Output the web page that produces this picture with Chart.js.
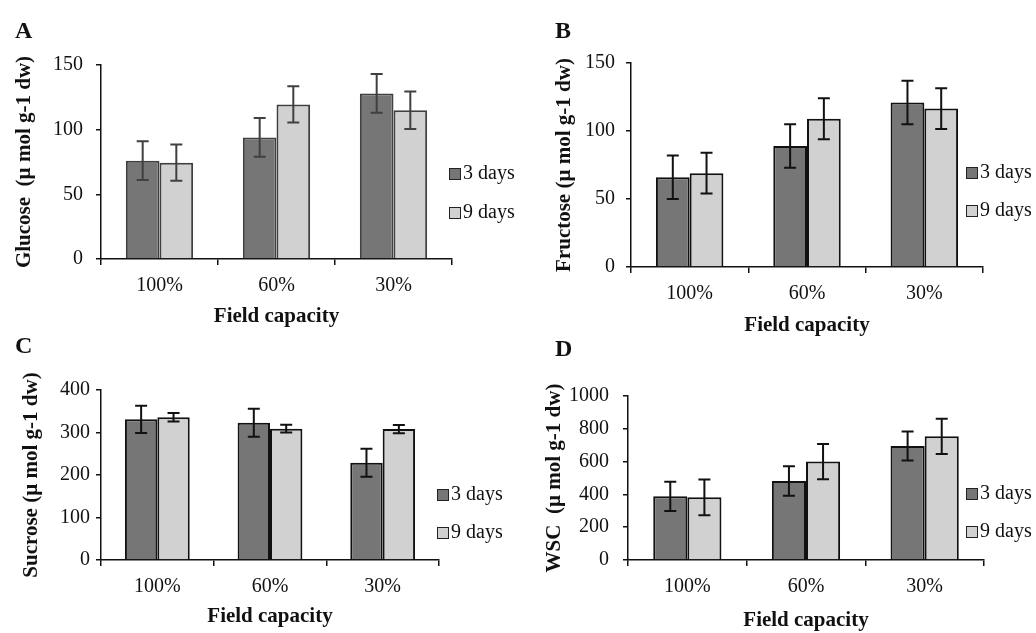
<!DOCTYPE html>
<html lang="en">
<head>
<meta charset="UTF-8">
<title>Sugars under field capacity</title>
<script src="https://cdn.jsdelivr.net/npm/chart.js"></script>
<style>
  body { margin: 0; background: #fff; }
  #page { position: relative; width: 1036px; height: 633px; overflow: hidden; font-family: "Liberation Serif", "Times New Roman", serif; }
  .panel { position: absolute; }
  .letter { position: absolute; font-weight: bold; font-size: 24px; line-height: 1; color: #111; }
  .legend { position: absolute; font-size: 20px; color: #111; }
  .legend div { position: absolute; white-space: nowrap; line-height: 20px; }
  .legend span { display: inline-block; width: 10px; height: 10px; border: 1.5px solid #222; margin-right: 2px; vertical-align: -1px; }
</style>
</head>
<body>
<div id="page"></div>

<script>
// categories shared by all four panels
const fieldCapacity = ['100%', '60%', '30%'];
const seriesNames = ['3 days', '9 days'];

// A - glucose
const glucose3 = [76, 94, 128];
const glucose3Err = [15, 15, 15];
const glucose9 = [74.5, 119.5, 115];
const glucose9Err = [14, 14, 14.5];

// B - fructose
const fructose3 = [66, 89, 121];
const fructose3Err = [16, 16, 16];
const fructose9 = [69, 109, 116.5];
const fructose9Err = [15, 15, 15];

// C - sucrose
const sucrose3 = [331, 323, 229];
const sucrose3Err = [32, 33, 33];
const sucrose9 = [336, 309, 308];
const sucrose9Err = [10, 9, 9.5];

// D - water soluble carbohydrates
const wsc3 = [388, 482, 695];
const wsc3Err = [89, 90, 88];
const wsc9 = [382, 600, 754];
const wsc9Err = [109, 108, 107];

const FONT = '"Liberation Serif", "Times New Roman", serif';
const DARK = '#767676';
const LIGHT = '#d1d1d1';
const TEXT = '#111';

// draws mean +/- error whiskers on top of the bars
const errorBars = {
    id: 'errorBars',
    afterDatasetsDraw(chart, args, opts) {
        const ctx = chart.ctx;
        const y = chart.scales.y;
        ctx.save();
        ctx.strokeStyle = opts.color || '#222';
        ctx.lineWidth = 2;
        chart.data.datasets.forEach((ds, i) => {
            chart.getDatasetMeta(i).data.forEach((bar, j) => {
                const v = ds.data[j], e = ds.errors[j];
                const top = y.getPixelForValue(v + e);
                const bot = y.getPixelForValue(v - e);
                ctx.beginPath();
                ctx.moveTo(bar.x, top); ctx.lineTo(bar.x, bot);
                ctx.moveTo(bar.x - 6, top); ctx.lineTo(bar.x + 6, top);
                ctx.moveTo(bar.x - 6, bot); ctx.lineTo(bar.x + 6, bot);
                ctx.stroke();
            });
        });
        ctx.restore();
    }
};

const panels = [
    { letter: 'A', yTitle: 'Glucose  (µ mol g-1 dw)', d3: glucose3, e3: glucose3Err, d9: glucose9, e9: glucose9Err,
      max: 150, step: 50, left: 0, top: 40, w: 462, h: 290, padTop: 21, padRight: 10, yW: 101, xH: 71, line: '#404040',
      yTitlePad: 12, xTitlePad: 1, yTickPad: 13, lx: 15, ly: 18, legX: 449, legY: [162, 201] },
    { letter: 'B', yTitle: 'Fructose (µ mol g-1 dw)', d3: fructose3, e3: fructose3Err, d9: fructose9, e9: fructose9Err,
      max: 150, step: 50, left: 520, top: 40, w: 470, h: 300, padTop: 19, padRight: 7, yW: 111, xH: 73, line: '#111',
      yTitlePad: 32, xTitlePad: 2, yTickPad: 11, lx: 555, ly: 18, legX: 966, legY: [161, 199] },
    { letter: 'C', yTitle: 'Sucrose (µ mol g-1 dw)', d3: sucrose3, e3: sucrose3Err, d9: sucrose9, e9: sucrose9Err,
      max: 400, step: 100, left: 0, top: 370, w: 450, h: 263, padTop: 20, padRight: 11, yW: 101, xH: 73, line: '#111',
      yTitlePad: 19, xTitlePad: 4, yTickPad: 6, lx: 15, ly: 333, legX: 437, legY: [483, 521] },
    { letter: 'D', yTitle: 'WSC  (µ mol g-1 dw)', d3: wsc3, e3: wsc3Err, d9: wsc9, e9: wsc9Err,
      max: 1000, step: 200, left: 520, top: 370, w: 470, h: 263, padTop: 20, padRight: 6, yW: 108, xH: 73, line: '#111',
      yTitlePad: 22, xTitlePad: 0, yTickPad: 14, lx: 555, ly: 336, legX: 966, legY: [482, 520] }
];

const page = document.getElementById('page');

panels.forEach(p => {
    const box = document.createElement('div');
    box.className = 'panel';
    box.style.left = p.left + 'px';
    box.style.top = p.top + 'px';
    box.style.width = p.w + 'px';
    box.style.height = p.h + 'px';
    const canvas = document.createElement('canvas');
    box.appendChild(canvas);
    page.appendChild(box);

    const letter = document.createElement('div');
    letter.className = 'letter';
    letter.textContent = p.letter;
    letter.style.left = p.lx + 'px';
    letter.style.top = p.ly + 'px';
    page.appendChild(letter);

    const leg = document.createElement('div');
    leg.className = 'legend';
    [DARK, LIGHT].forEach((c, k) => {
        const row = document.createElement('div');
        row.style.left = p.legX + 'px';
        row.style.top = p.legY[k] + 'px';
        row.innerHTML = '<span style="background:' + c + '"></span>' + seriesNames[k];
        leg.appendChild(row);
    });
    page.appendChild(leg);

    new Chart(canvas, {
        type: 'bar',
        data: {
            labels: fieldCapacity,
            datasets: [
                { label: seriesNames[0], data: p.d3, errors: p.e3, backgroundColor: DARK, borderColor: p.line, borderWidth: 2 },
                { label: seriesNames[1], data: p.d9, errors: p.e9, backgroundColor: LIGHT, borderColor: p.line, borderWidth: 2 }
            ]
        },
        options: {
            responsive: true,
            maintainAspectRatio: false,
            animation: false,
            layout: { padding: { top: p.padTop, right: p.padRight, left: 0, bottom: 0 } },
            datasets: { bar: { categoryPercentage: 0.575, barPercentage: 1.0 } },
            plugins: { legend: { display: false }, tooltip: { enabled: false }, errorBars: { color: p.line } },
            scales: {
                x: {
                    afterFit: s => { s.height = p.xH; },
                    grid: { drawOnChartArea: false, drawTicks: true, tickLength: 6, color: '#111', lineWidth: 1.5 },
                    border: { display: true, color: '#111', width: 1.5 },
                    ticks: { color: TEXT, padding: 9, maxRotation: 0, font: { family: FONT, size: 20 } },
                    title: { display: true, text: 'Field capacity', color: TEXT,
                             padding: { top: 0, bottom: p.xTitlePad }, font: { family: FONT, size: 21, weight: 'bold', lineHeight: 1.2 } }
                },
                y: {
                    min: 0, max: p.max,
                    afterFit: s => { s.width = p.yW; },
                    grid: { drawOnChartArea: false, drawTicks: true, tickLength: 5, color: '#111', lineWidth: 1.5 },
                    border: { display: true, color: '#111', width: 1.5 },
                    ticks: { stepSize: p.step, color: TEXT, padding: p.yTickPad, font: { family: FONT, size: 20 },
                             callback: v => String(v) },
                    title: { display: true, text: p.yTitle, color: TEXT,
                             padding: { top: p.yTitlePad, bottom: 0 }, font: { family: FONT, size: 21, weight: 'bold', lineHeight: 1.2 } }
                }
            }
        },
        plugins: [errorBars]
    });
});
</script>
</body>
</html>
